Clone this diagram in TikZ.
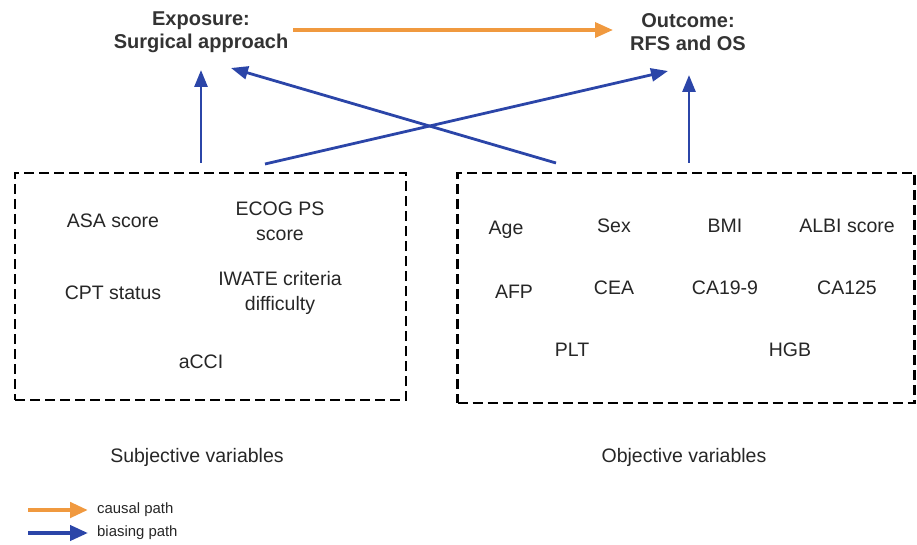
\documentclass[tikz,border=0pt]{standalone}
\usepackage{fontspec}
\setmainfont{Liberation Sans}
\usetikzlibrary{arrows.meta}
\definecolor{bl}{HTML}{2B45A8}
\definecolor{orn}{HTML}{F0993F}
\definecolor{txt}{HTML}{262626}
\definecolor{ttxt}{HTML}{333333}
\begin{document}
\begin{tikzpicture}[x=1pt,y=-1pt,
  lbl/.style={text=txt,font=\fontsize{19.5}{25}\selectfont,align=center,inner sep=0pt},
  ttl/.style={text=ttxt,font=\fontsize{20}{23}\selectfont\bfseries,align=center,inner sep=0pt},
  leg/.style={text=txt,font=\fontsize{14.9}{18}\selectfont,inner sep=0pt,anchor=west},
  vbox/.style={draw=black,line width=2.5pt,dash pattern=on 10pt off 5pt,inner sep=0pt},
  bias/.style={draw=bl,line width=2.8pt,-{Triangle[length=17pt,width=13pt]}},
  causal/.style={draw=orn,line width=3.5pt,-{Triangle[length=18pt,width=15pt]}}]
\useasboundingbox (0,0) rectangle (917,545);
% titles
\node[ttl] (expo) at (201,32) {Exposure:\\Surgical approach};
\node[ttl] (outc) at (688,32) {Outcome:\\RFS and OS};
% boxes
\node[vbox,minimum width=391pt,minimum height=227pt] (subj) at (210.5,286.5) {};
\node[vbox,minimum width=457pt,minimum height=230pt] (obj) at (686,288) {};
% subjective variables
\node[lbl] (asa) at (113,221) {ASA score};
\node[lbl] (ecog) at (280,221) {ECOG PS\\score};
\node[lbl] (cpt) at (113,293) {CPT status};
\node[lbl] (iwate) at (280,293) {IWATE criteria\\difficulty};
\node[lbl] (acci) at (201,362) {aCCI};
% objective variables
\node[lbl] (age) at (506,230) {Age};
\node[lbl] (sex) at (614,226) {Sex};
\node[lbl] (bmi) at (725,226) {BMI};
\node[lbl] (albi) at (847,226) {ALBI score};
\node[lbl] (afp) at (514,292) {AFP};
\node[lbl] (cea) at (614,288) {CEA};
\node[lbl] (ca199) at (725,288) {CA19-9};
\node[lbl] (ca125) at (847,288) {CA125};
\node[lbl] (plt) at (572,350) {PLT};
\node[lbl] (hgb) at (790,350) {HGB};
% captions
\node[lbl] (subjcap) at (197,457) {Subjective variables};
\node[lbl] (objcap) at (684,457) {Objective variables};
% connector ends
\coordinate (c1) at (293,30);
\coordinate (c2) at (613,30);
\coordinate (a1s) at (201,163);
\coordinate (a1e) at (201,70);
\coordinate (a2s) at (265,164);
\coordinate (a2e) at (668,71);
\coordinate (a3s) at (556,163);
\coordinate (a3e) at (231,68);
\coordinate (a4s) at (689,163);
\coordinate (a4e) at (689,75);
\draw[causal] (c1) -- (c2);
\draw[bias] (a1s) -- (a1e);
\draw[bias] (a2s) -- (a2e);
\draw[bias] (a3s) -- (a3e);
\draw[bias] (a4s) -- (a4e);
% legend
\coordinate (l1s) at (28,510);
\coordinate (l1e) at (88,510);
\coordinate (l2s) at (28,533);
\coordinate (l2e) at (88,533);
\draw[causal,line width=4.5pt] (l1s) -- (l1e);
\draw[bias,line width=4pt,-{Triangle[length=18pt,width=15pt]}] (l2s) -- (l2e);
\node[leg] (lc) at (97,510) {causal path};
\node[leg] (lb) at (97,533) {biasing path};
\end{tikzpicture}
\end{document}
